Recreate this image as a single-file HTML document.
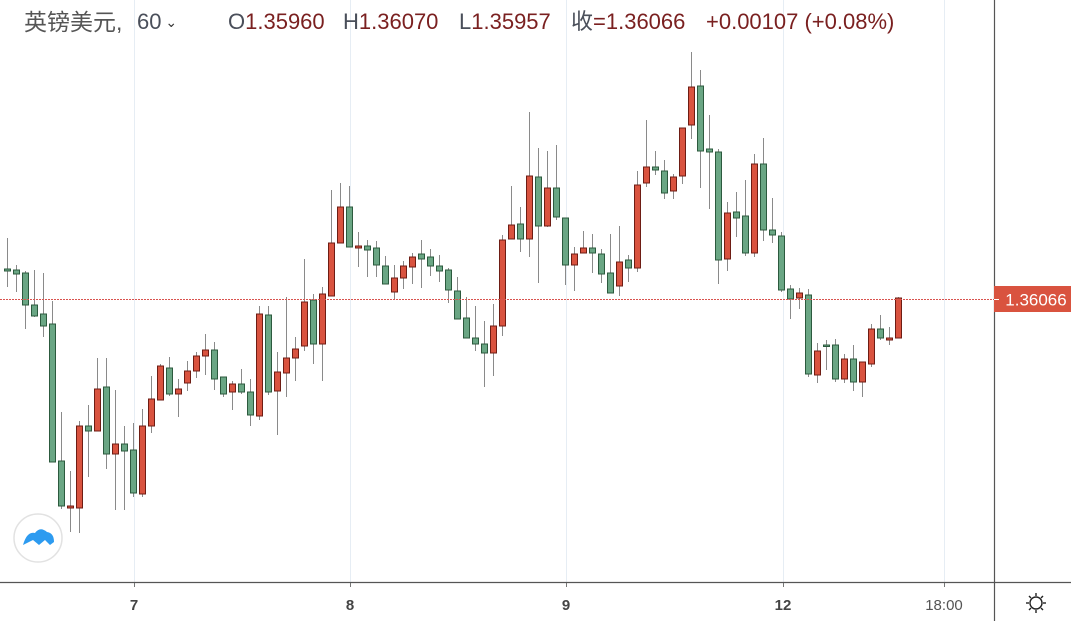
<!DOCTYPE html>
<html><head><meta charset="utf-8"><style>
html,body{margin:0;padding:0;background:#fff;width:1071px;height:621px;overflow:hidden}
#c{position:absolute;left:0;top:0}
.hd{position:absolute;top:8px;height:28px;line-height:28px;font-family:"Liberation Sans","Noto Sans CJK SC",sans-serif;font-size:22px;white-space:nowrap;color:#4a4f5a}
.hd span{line-height:28px}
.v{color:#7a2020}
</style></head><body>
<svg id="c" width="1071" height="621" xmlns="http://www.w3.org/2000/svg">
<g stroke="#e6edf4" stroke-width="1">
<line x1="134.5" y1="0" x2="134.5" y2="582"/><line x1="350.5" y1="0" x2="350.5" y2="582"/>
<line x1="566.5" y1="0" x2="566.5" y2="582"/><line x1="783.5" y1="0" x2="783.5" y2="582"/>
<line x1="944.5" y1="0" x2="944.5" y2="582"/>
</g>
<g id="cs"></g>
<line x1="0" y1="299.5" x2="994" y2="299.5" stroke="#d9534f" stroke-width="1" stroke-dasharray="2,1"/>
<line x1="994.5" y1="0" x2="994.5" y2="621" stroke="#555" stroke-width="1.2"/>
<line x1="0" y1="582.5" x2="1071" y2="582.5" stroke="#555" stroke-width="1.2"/>
<g stroke="#777"><line x1="134.5" y1="583" x2="134.5" y2="587"/><line x1="350.5" y1="583" x2="350.5" y2="587"/><line x1="566.5" y1="583" x2="566.5" y2="587"/><line x1="783.5" y1="583" x2="783.5" y2="587"/><line x1="944.5" y1="583" x2="944.5" y2="587"/></g>
<g font-family="Liberation Sans,sans-serif" font-size="15" fill="#555" text-anchor="middle">
<text x="134" y="610" font-weight="bold" fill="#444">7</text><text x="350" y="610" font-weight="bold" fill="#444">8</text>
<text x="566" y="610" font-weight="bold" fill="#444">9</text><text x="783" y="610" font-weight="bold" fill="#444">12</text>
<text x="944" y="610">18:00</text></g>
<rect x="994" y="286" width="77" height="26" fill="#d9533f"/>
<line x1="994" y1="299.5" x2="999" y2="299.5" stroke="#fff"/>
<text x="1036" y="305.5" font-family="Liberation Sans,sans-serif" font-size="17" fill="#fff" text-anchor="middle">1.36066</text>
<g transform="translate(1036,603)" stroke="#222" stroke-width="1.4" fill="none">
<circle r="6"/><line x1="0" y1="-7" x2="0" y2="-10"/><line x1="0" y1="7" x2="0" y2="10"/><line x1="-7" y1="0" x2="-10" y2="0"/><line x1="7" y1="0" x2="10" y2="0"/>
<line x1="5" y1="5" x2="7" y2="7"/><line x1="-5" y1="5" x2="-7" y2="7"/><line x1="5" y1="-5" x2="7" y2="-7"/><line x1="-5" y1="-5" x2="-7" y2="-7"/></g>
<circle cx="38" cy="538" r="24" fill="#fff" stroke="#e2e2e2" stroke-width="1.5"/>
<path d="M23 545 Q27 531 35 533 Q40 526 47 532 Q54 533 54 542 L50 545 L45 540 L39 545 L33 540 Z" fill="#2d9bf0"/>
</svg>
<div class="hd" style="left:24px;color:#555;font-size:23px">英镑美元,</div>
<div class="hd" style="left:137px">60<span style="font-size:14px;color:#333;vertical-align:2px"> ⌄</span></div>
<div class="hd" style="left:228px">O<span class="v">1.35960</span></div>
<div class="hd" style="left:343px">H<span class="v">1.36070</span></div>
<div class="hd" style="left:459px">L<span class="v">1.35957</span></div>
<div class="hd" style="left:571px">收<span class="v">=1.36066</span></div>
<div class="hd v" style="left:706px">+0.00107 (+0.08%)</div>
<script>
var d="g269,271,238,287|g270,274,265,292|g273,305,271,329|g305,316,270,317|g314,326,273,337|g324,462,301,462|g461,506,412,509|r506,508,471,532|r426,508,421,533|g426,431,405,477|r389,431,358,431|g387,454,358,469|r444,454,390,510|g444,451,426,510|g450,493,423,497|r426,494,409,497|r399,426,376,433|r366,400,364,400|g368,394,357,396|r389,394,379,417|r371,383,361,391|r356,371,352,378|r350,356,334,375|g350,379,342,390|g377,394,377,397|r384,392,381,410|g384,392,369,394|g392,415,379,426|r314,416,306,420|g315,392,306,395|r372,391,352,435|r358,373,297,397|r349,358,337,381|r302,346,259,351|g300,344,294,364|r294,344,287,381|r243,296,190,296|r207,243,183,243|g207,247,186,247|r246,248,232,267|g246,250,240,277|g248,265,241,277|g266,284,256,284|r278,292,265,299|r266,278,261,289|r257,267,253,284|g254,259,240,288|g257,266,249,276|g266,271,255,282|g270,290,268,303|g291,319,277,319|g318,338,297,338|g338,344,306,351|g344,353,321,387|r326,353,304,376|r240,326,235,336|r225,239,186,239|g224,239,207,252|r176,239,112,257|g177,226,148,283|r188,226,151,227|g188,217,145,220|g218,265,218,285|r254,265,247,291|r248,253,231,253|g248,253,234,273|g254,274,249,283|g273,293,234,293|r262,286,226,296|g260,268,255,282|r185,268,171,272|r167,183,120,187|g167,170,151,175|g171,193,160,199|r177,191,174,199|r128,176,128,184|r87,125,52,139|g86,151,70,188|g149,152,115,209|g152,260,149,284|r213,259,202,271|g212,218,192,237|g216,253,180,256|r164,253,154,257|g164,230,138,241|g230,235,198,243|g236,290,232,292|g289,299,285,319|r293,298,288,309|g295,374,289,377|r351,375,343,383|g345,346,340,370|g345,379,339,382|r359,379,354,383|g359,382,345,391|r362,382,362,397|r329,364,324,367|g329,338,315,340|r338,340,327,345|r298,338,297,338".split("|");
var s="";
d.forEach(function(c,i){var r=c[0]=="r",v=c.slice(1).split(",").map(Number),x=7+9*i;
s+='<line x1="'+(x+.5)+'" y1="'+v[2]+'" x2="'+(x+.5)+'" y2="'+v[3]+'" stroke="#8a8a8a" stroke-width="1"/>';
var h=Math.max(v[1]-v[0],1.5);
s+='<rect x="'+(x-2.5)+'" y="'+v[0]+'" width="6" height="'+h+'" fill="'+(r?"#d9533f":"#6aa684")+'" stroke="'+(r?"#6e1d14":"#2c5a3e")+'" stroke-width="1"/>';});
document.getElementById("cs").innerHTML=s;
</script>
</body></html>
